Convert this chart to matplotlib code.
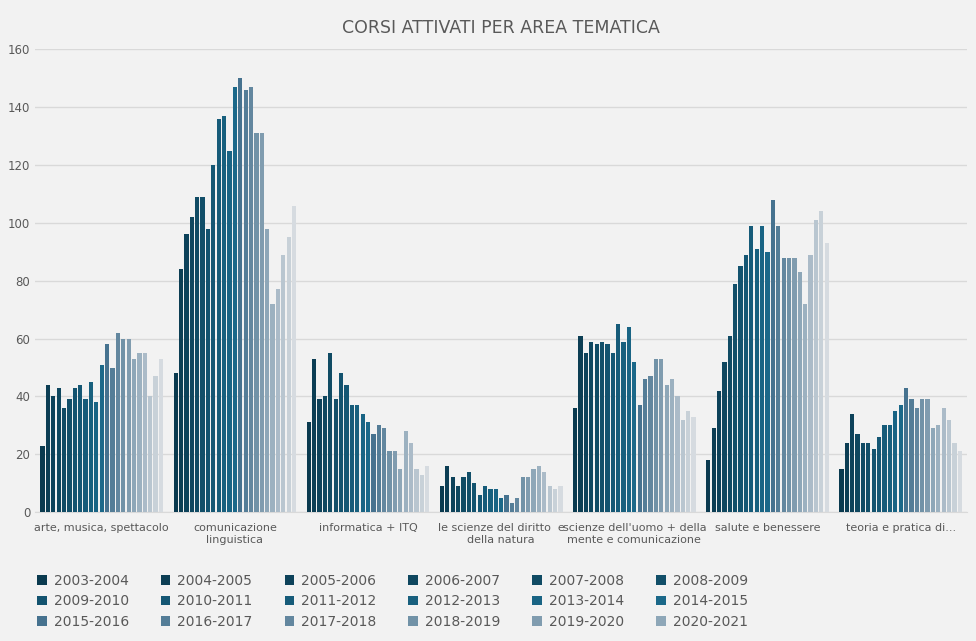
import matplotlib
matplotlib.use("Agg")
import matplotlib.pyplot as plt
import numpy as np
from matplotlib.colors import to_rgb

categories = ["arte, musica, spettacolo", "comunicazione\nlinguistica", "informatica + ITQ",
              "le scienze del diritto  e\ndella natura", "scienze dell'uomo + della\nmente e comunicazione",
              "salute e benessere", "teoria e pratica di..."]
years = [f"{y}-{y+1}" for y in range(2003, 2026)]
arte = [23,44,40,43,36,39,43,44,39,45,38,51,58,50,62,60,60,53,55,55,40,47,53]
comunicazione = [48,84,96,102,109,109,98,120,136,137,125,147,150,146,147,131,131,98,72,77,89,95,106]
informatica = [31,53,39,40,55,39,48,44,37,37,34,31,27,30,29,21,21,15,28,24,15,13,16]
diritto = [9,16,12,9,12,14,10,6,9,8,8,5,6,3,5,12,12,15,16,14,9,8,9]
uomo = [36,61,55,59,58,59,58,55,65,59,64,52,37,46,47,53,53,44,46,40,32,35,33]
salute = [18,29,42,52,61,79,85,89,99,91,99,90,108,99,88,88,88,83,72,89,101,104,93]
teoria = [15,24,34,27,24,24,22,26,30,30,35,37,43,39,36,39,39,29,30,36,32,24,21]
data = np.array([arte, comunicazione, informatica, diritto, uomo, salute, teoria])

def lerp(c1, c2, t):
    a, b = np.array(to_rgb(c1)), np.array(to_rgb(c2))
    return tuple(a + (b - a) * t)
colors = []
for i in range(23):
    if i <= 11:
        colors.append(lerp("#0A3A4F", "#1B6889", i / 11))
    else:
        colors.append(lerp("#46728F", "#D6DBE0", (i - 12) / 10))

fig = plt.figure(figsize=(9.76, 6.41), dpi=100, facecolor="#F2F2F2")
ax = fig.add_axes([0.036, 0.201, 0.955, 0.722], facecolor="#F2F2F2")
n = len(years)
gw = 0.93
bw = gw / n
x = np.arange(len(categories))
handles = []
for i in range(n):
    b = ax.bar(x - gw / 2 + bw * (i + 0.5), data[:, i], width=bw * 0.78, color=colors[i], zorder=3)
    handles.append(b)
ax.set_ylim(0, 160)
ax.set_xlim(-0.5, len(categories) - 0.5)
ax.set_yticks(range(0, 161, 20))
ax.yaxis.grid(True, color="#D9D9D9", lw=1, zorder=0)
for s in ax.spines.values():
    s.set_visible(False)
ax.spines["bottom"].set_visible(True)
ax.spines["bottom"].set_color("#D9D9D9")
ax.tick_params(length=0, colors="#595959", labelsize=8.5)
ax.tick_params(axis="x", labelsize=8, pad=8)
ax.set_xticks(x)
ax.set_xticklabels(categories, va="top")
ax.set_title("CORSI ATTIVATI PER AREA TEMATICA", color="#595959", fontsize=12.5, pad=12)

nrows, ncols = 3, 6
order = [r * ncols + c for c in range(ncols) for r in range(nrows)]
fig.legend([handles[k] for k in order], [years[k] for k in order], loc="lower left",
           bbox_to_anchor=(0.025, 0.0), ncol=ncols, frameon=False, fontsize=10,
           labelcolor="#595959", handlelength=0.7, handleheight=0.7,
           columnspacing=2.3, handletextpad=0.5, labelspacing=0.45)
fig.savefig("out.png", dpi=100, facecolor="#F2F2F2")
